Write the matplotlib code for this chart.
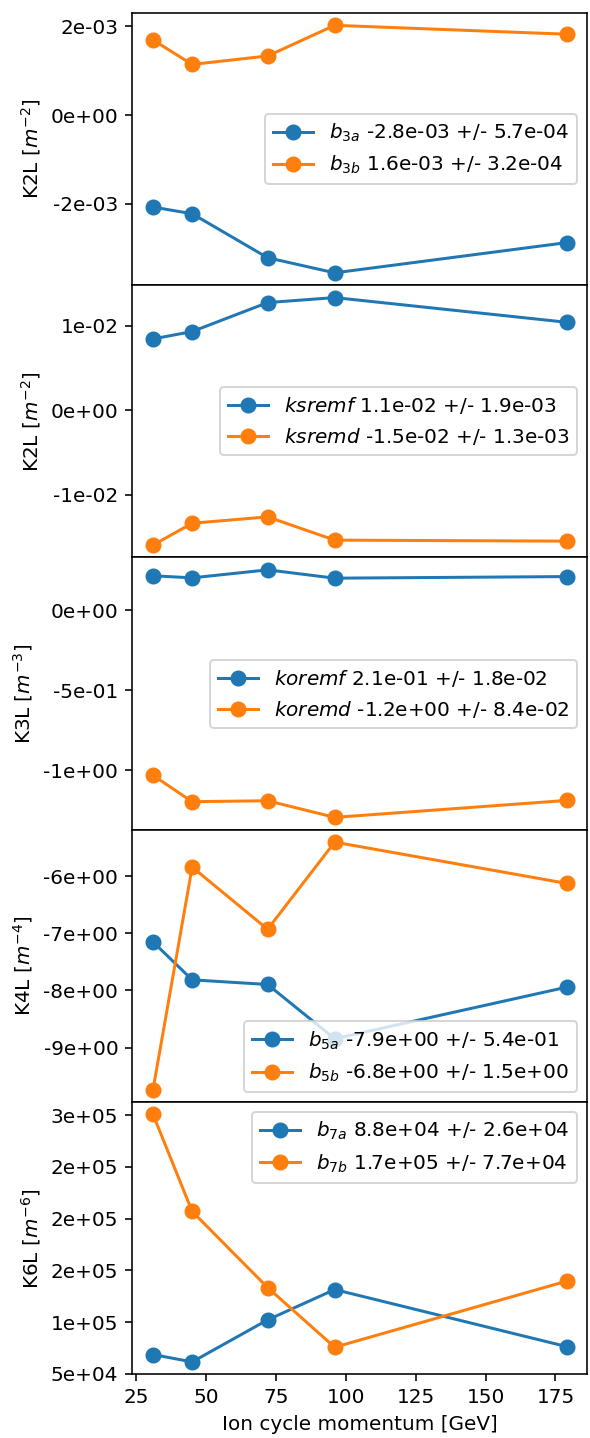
import matplotlib
matplotlib.use("Agg")
import matplotlib.pyplot as plt
from matplotlib.ticker import FormatStrFormatter, FixedLocator

# ---- data ----
momentum = [31, 45, 72, 96, 179]

b3a = [-2.07e-3, -2.22e-3, -3.21e-3, -3.55e-3, -2.87e-3]
b3b = [1.69e-3, 1.14e-3, 1.33e-3, 2.02e-3, 1.82e-3]

ksremf = [0.846e-2, 0.933e-2, 1.276e-2, 1.335e-2, 1.043e-2]
ksremd = [-1.594e-2, -1.335e-2, -1.260e-2, -1.535e-2, -1.547e-2]

koremf = [0.215, 0.202, 0.252, 0.200, 0.210]
koremd = [-1.033, -1.198, -1.192, -1.296, -1.190]

b5a = [-7.151, -7.814, -7.895, -8.843, -7.942]
b5b = [-9.733, -5.843, -6.930, -5.407, -6.128]

b7a = [0.687e5, 0.616e5, 1.022e5, 1.315e5, 0.764e5]
b7b = [3.006e5, 2.069e5, 1.334e5, 0.758e5, 1.396e5]

labels_a = [r"$b_{3a}$ -2.8e-03 +/- 5.7e-04",
            r"$ksremf$ 1.1e-02 +/- 1.9e-03",
            r"$koremf$ 2.1e-01 +/- 1.8e-02",
            r"$b_{5a}$ -7.9e+00 +/- 5.4e-01",
            r"$b_{7a}$ 8.8e+04 +/- 2.6e+04"]
labels_b = [r"$b_{3b}$ 1.6e-03 +/- 3.2e-04",
            r"$ksremd$ -1.5e-02 +/- 1.3e-03",
            r"$koremd$ -1.2e+00 +/- 8.4e-02",
            r"$b_{5b}$ -6.8e+00 +/- 1.5e+00",
            r"$b_{7b}$ 1.7e+05 +/- 7.7e+04"]
ylabels = [r"K2L [$m^{-2}$]", r"K2L [$m^{-2}$]", r"K3L [$m^{-3}$]",
           r"K4L [$m^{-4}$]", r"K6L [$m^{-6}$]"]
yticks = [[-2e-3, 0, 2e-3],
          [-1e-2, 0, 1e-2],
          [-1.0, -0.5, 0.0],
          [-9, -8, -7, -6],
          [5e4, 1e5, 1.5e5, 2e5, 2.5e5, 3e5]]
xticks = [25, 50, 75, 100, 125, 150, 175]
legend_locs = ["center right", "center right", "center right", "lower right", "upper right"]

series_a = [b3a, ksremf, koremf, b5a, b7a]
series_b = [b3b, ksremd, koremd, b5b, b7b]

DPI = 144
fig, axes = plt.subplots(5, 1, sharex=True, figsize=(590 / DPI, 1438 / DPI), dpi=DPI)
fig.subplots_adjust(left=0.2243, right=0.9955, top=0.991, bottom=0.0443, hspace=0)

for ax, ya, yb, la, lb, yl, yt, loc in zip(axes, series_a, series_b, labels_a, labels_b,
                                           ylabels, yticks, legend_locs):
    ax.plot(momentum, ya, "o-", color="#1f77b4", markersize=7, label=la)
    ax.plot(momentum, yb, "o-", color="#ff7f0e", markersize=7, label=lb)
    ax.set_ylabel(yl)
    ax.yaxis.set_major_locator(FixedLocator(yt))
    ax.yaxis.set_major_formatter(FormatStrFormatter("%.0e"))
    ax.legend(loc=loc)

axes[-1].xaxis.set_major_locator(FixedLocator(xticks))
axes[-1].set_xlabel("Ion cycle momentum [GeV]")

fig.savefig("out.png", dpi=DPI)
